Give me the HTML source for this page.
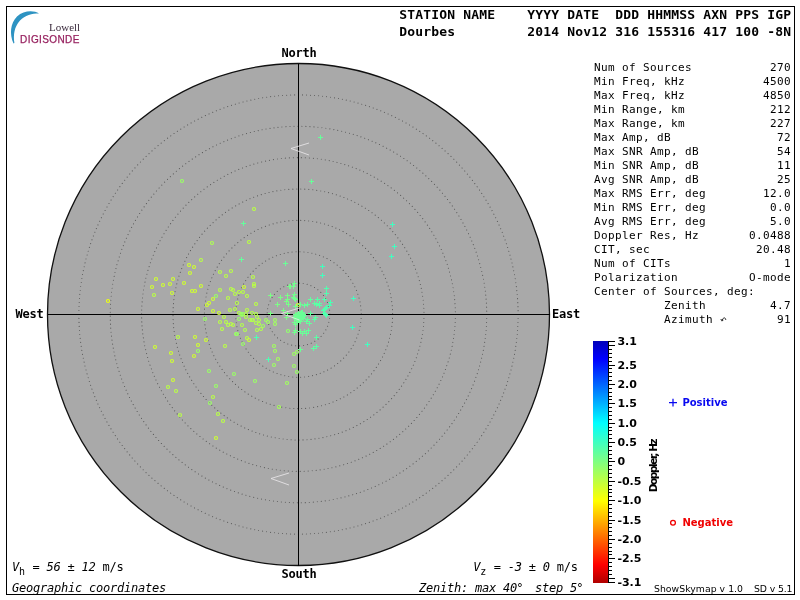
<!DOCTYPE html>
<html lang="en"><head><meta charset="utf-8"><title>Skymap - Dourbes</title>
<style>
html,body{margin:0;padding:0;background:#fff;}
svg{display:block;will-change:transform;}
.mb{font-family:"DejaVu Sans Mono","Liberation Mono",monospace;font-weight:bold;}
.m{font-family:"DejaVu Sans Mono","Liberation Mono",monospace;}
.mi{font-family:"DejaVu Sans Mono","Liberation Mono",monospace;font-style:oblique;}
.sb{font-family:"DejaVu Sans","Liberation Sans",sans-serif;font-weight:bold;}
.s{font-family:"DejaVu Sans","Liberation Sans",sans-serif;}
text{white-space:pre;}
</style></head><body>
<svg width="800" height="600" viewBox="0 0 800 600">
<rect x="6.5" y="6.5" width="788" height="588" fill="none" stroke="#000" stroke-width="1" shape-rendering="crispEdges"/>
<g id="logo">
<path d="M39,13.5 C34,10.3 24,10 17,16.5 C10.3,23 9.3,34 13.5,43.6 L14.4,43 C13.2,35 14.2,27 20,20.5 C25,15.2 32,13.5 39,13.5 Z" fill="#2e93c2"/>
<text x="49" y="30.5" font-family="'Liberation Serif','DejaVu Serif',serif" font-size="11" fill="#3b2b3d">Lowell</text>
<text x="20.1" y="42.6" font-family="'Liberation Sans','DejaVu Sans',sans-serif" font-size="10" letter-spacing="0.4" fill="#97215f" stroke="#97215f" stroke-width="0.25">DIGISONDE</text>
</g>
<text class="mb" x="399.3" y="19" font-size="13" letter-spacing="0.17">STATION NAME    YYYY DATE  DDD HHMMSS AXN PPS IGP</text>
<text class="mb" x="399.3" y="36" font-size="13" letter-spacing="0.17">Dourbes         2014 Nov12 316 155316 417 100 -8N</text>
<circle cx="298.5" cy="314.5" r="251.0" fill="#a9a9a9" stroke="#111" stroke-width="1.3"/>
<circle cx="298.5" cy="314.5" r="31.38" fill="none" stroke="#585858" stroke-width="1.1" stroke-linecap="round" stroke-dasharray="0.01 4"/>
<circle cx="298.5" cy="314.5" r="62.75" fill="none" stroke="#585858" stroke-width="1.1" stroke-linecap="round" stroke-dasharray="0.01 4"/>
<circle cx="298.5" cy="314.5" r="94.12" fill="none" stroke="#585858" stroke-width="1.1" stroke-linecap="round" stroke-dasharray="0.01 4"/>
<circle cx="298.5" cy="314.5" r="125.50" fill="none" stroke="#585858" stroke-width="1.1" stroke-linecap="round" stroke-dasharray="0.01 4"/>
<circle cx="298.5" cy="314.5" r="156.88" fill="none" stroke="#585858" stroke-width="1.1" stroke-linecap="round" stroke-dasharray="0.01 4"/>
<circle cx="298.5" cy="314.5" r="188.25" fill="none" stroke="#585858" stroke-width="1.1" stroke-linecap="round" stroke-dasharray="0.01 4"/>
<circle cx="298.5" cy="314.5" r="219.62" fill="none" stroke="#585858" stroke-width="1.1" stroke-linecap="round" stroke-dasharray="0.01 4"/>
<line x1="47.5" y1="314.5" x2="549.5" y2="314.5" stroke="#000" stroke-width="1" shape-rendering="crispEdges"/>
<line x1="298.5" y1="63.5" x2="298.5" y2="565.5" stroke="#000" stroke-width="1" shape-rendering="crispEdges"/>
<text class="mb" x="281.4" y="57" font-size="12" letter-spacing="-0.22">North</text>
<text class="mb" x="281.4" y="578" font-size="12" letter-spacing="-0.22">South</text>
<text class="mb" x="15.5" y="318" font-size="12" letter-spacing="-0.22">West</text>
<text class="mb" x="552" y="318" font-size="12" letter-spacing="-0.22">East</text>
<g id="pts" fill="none" stroke-width="1">
<circle cx="182" cy="181" r="1.5" stroke="#99ff66" stroke-width="1.15"/>
<circle cx="254" cy="209" r="1.5" stroke="#b9ff46" stroke-width="1.15"/>
<circle cx="108" cy="301" r="1.5" stroke="#ecff13" stroke-width="1.15"/>
<circle cx="156" cy="279" r="1.5" stroke="#cfff30" stroke-width="1.15"/>
<circle cx="152" cy="287" r="1.5" stroke="#cfff30" stroke-width="1.15"/>
<circle cx="154" cy="295" r="1.5" stroke="#b9ff46" stroke-width="1.15"/>
<circle cx="163" cy="285" r="1.5" stroke="#cfff30" stroke-width="1.15"/>
<circle cx="170" cy="284" r="1.5" stroke="#cfff30" stroke-width="1.15"/>
<circle cx="173" cy="279" r="1.5" stroke="#cfff30" stroke-width="1.15"/>
<circle cx="172" cy="293" r="1.5" stroke="#cfff30" stroke-width="1.15"/>
<circle cx="184" cy="283" r="1.5" stroke="#cfff30" stroke-width="1.15"/>
<circle cx="189" cy="265" r="1.5" stroke="#cfff30" stroke-width="1.15"/>
<circle cx="194" cy="267" r="1.5" stroke="#cfff30" stroke-width="1.15"/>
<circle cx="190" cy="273" r="1.5" stroke="#cfff30" stroke-width="1.15"/>
<circle cx="201" cy="260" r="1.5" stroke="#b9ff46" stroke-width="1.15"/>
<circle cx="201" cy="286" r="1.5" stroke="#cfff30" stroke-width="1.15"/>
<circle cx="192" cy="291" r="1.5" stroke="#cfff30" stroke-width="1.15"/>
<circle cx="195" cy="291" r="1.5" stroke="#cfff30" stroke-width="1.15"/>
<circle cx="198" cy="309" r="1.5" stroke="#cfff30" stroke-width="1.15"/>
<circle cx="207" cy="305" r="1.5" stroke="#cfff30" stroke-width="1.15"/>
<circle cx="209" cy="303" r="1.5" stroke="#cfff30" stroke-width="1.15"/>
<circle cx="205" cy="319" r="1.5" stroke="#99ff66" stroke-width="1.15"/>
<circle cx="212" cy="243" r="1.5" stroke="#adff53" stroke-width="1.15"/>
<circle cx="249" cy="242" r="1.5" stroke="#b9ff46" stroke-width="1.15"/>
<circle cx="220" cy="272" r="1.5" stroke="#b9ff46" stroke-width="1.15"/>
<circle cx="231" cy="271" r="1.5" stroke="#b9ff46" stroke-width="1.15"/>
<circle cx="226" cy="276" r="1.5" stroke="#b9ff46" stroke-width="1.15"/>
<circle cx="253" cy="277" r="1.5" stroke="#b9ff46" stroke-width="1.15"/>
<circle cx="254" cy="284" r="1.5" stroke="#b9ff46" stroke-width="1.15"/>
<circle cx="254" cy="286" r="1.5" stroke="#b9ff46" stroke-width="1.15"/>
<circle cx="244" cy="287" r="1.5" stroke="#cfff30" stroke-width="1.15"/>
<circle cx="231" cy="289" r="1.5" stroke="#b9ff46" stroke-width="1.15"/>
<circle cx="233" cy="290" r="1.5" stroke="#b9ff46" stroke-width="1.15"/>
<circle cx="220" cy="290" r="1.5" stroke="#b9ff46" stroke-width="1.15"/>
<circle cx="239" cy="292" r="1.5" stroke="#b9ff46" stroke-width="1.15"/>
<circle cx="243" cy="292" r="1.5" stroke="#b9ff46" stroke-width="1.15"/>
<circle cx="235" cy="294" r="1.5" stroke="#b9ff46" stroke-width="1.15"/>
<circle cx="216" cy="296" r="1.5" stroke="#99ff66" stroke-width="1.15"/>
<circle cx="247" cy="296" r="1.5" stroke="#b9ff46" stroke-width="1.15"/>
<circle cx="228" cy="298" r="1.5" stroke="#b9ff46" stroke-width="1.15"/>
<circle cx="213" cy="299" r="1.5" stroke="#cfff30" stroke-width="1.15"/>
<circle cx="237" cy="303" r="1.5" stroke="#b9ff46" stroke-width="1.15"/>
<circle cx="256" cy="304" r="1.5" stroke="#b9ff46" stroke-width="1.15"/>
<circle cx="230" cy="310" r="1.5" stroke="#b9ff46" stroke-width="1.15"/>
<circle cx="235" cy="309" r="1.5" stroke="#b9ff46" stroke-width="1.15"/>
<circle cx="213" cy="311" r="1.5" stroke="#cfff30" stroke-width="1.15"/>
<circle cx="247" cy="310" r="1.5" stroke="#b9ff46" stroke-width="1.15"/>
<circle cx="219" cy="313" r="1.5" stroke="#cfff30" stroke-width="1.15"/>
<circle cx="239" cy="313" r="1.5" stroke="#b9ff46" stroke-width="1.15"/>
<circle cx="241" cy="314" r="1.5" stroke="#99ff66" stroke-width="1.15"/>
<circle cx="242" cy="315" r="1.5" stroke="#99ff66" stroke-width="1.15"/>
<circle cx="243" cy="314" r="1.5" stroke="#99ff66" stroke-width="1.15"/>
<circle cx="246" cy="314" r="1.5" stroke="#b3ff4d" stroke-width="1.15"/>
<circle cx="252" cy="313" r="1.5" stroke="#b3ff4d" stroke-width="1.15"/>
<circle cx="256" cy="314" r="1.5" stroke="#b3ff4d" stroke-width="1.15"/>
<circle cx="224" cy="317" r="1.5" stroke="#b9ff46" stroke-width="1.15"/>
<circle cx="239" cy="319" r="1.5" stroke="#99ff66" stroke-width="1.15"/>
<circle cx="246" cy="317" r="1.5" stroke="#b3ff4d" stroke-width="1.15"/>
<circle cx="257" cy="317" r="1.5" stroke="#b3ff4d" stroke-width="1.15"/>
<circle cx="250" cy="320" r="1.5" stroke="#b3ff4d" stroke-width="1.15"/>
<circle cx="252" cy="320" r="1.5" stroke="#b3ff4d" stroke-width="1.15"/>
<circle cx="253" cy="320" r="1.5" stroke="#b3ff4d" stroke-width="1.15"/>
<circle cx="259" cy="320" r="1.5" stroke="#b3ff4d" stroke-width="1.15"/>
<circle cx="266" cy="320" r="1.5" stroke="#a1ff5f" stroke-width="1.15"/>
<circle cx="275" cy="320" r="1.5" stroke="#a1ff5f" stroke-width="1.15"/>
<circle cx="220" cy="322" r="1.5" stroke="#b9ff46" stroke-width="1.15"/>
<circle cx="226" cy="322" r="1.5" stroke="#b9ff46" stroke-width="1.15"/>
<circle cx="256" cy="323" r="1.5" stroke="#b3ff4d" stroke-width="1.15"/>
<circle cx="259" cy="324" r="1.5" stroke="#b3ff4d" stroke-width="1.15"/>
<circle cx="268" cy="322" r="1.5" stroke="#a1ff5f" stroke-width="1.15"/>
<circle cx="275" cy="324" r="1.5" stroke="#a1ff5f" stroke-width="1.15"/>
<circle cx="228" cy="325" r="1.5" stroke="#b9ff46" stroke-width="1.15"/>
<circle cx="231" cy="324" r="1.5" stroke="#b9ff46" stroke-width="1.15"/>
<circle cx="233" cy="325" r="1.5" stroke="#b9ff46" stroke-width="1.15"/>
<circle cx="242" cy="325" r="1.5" stroke="#b3ff4d" stroke-width="1.15"/>
<circle cx="263" cy="326" r="1.5" stroke="#a1ff5f" stroke-width="1.15"/>
<circle cx="222" cy="329" r="1.5" stroke="#b9ff46" stroke-width="1.15"/>
<circle cx="245" cy="330" r="1.5" stroke="#b3ff4d" stroke-width="1.15"/>
<circle cx="257" cy="330" r="1.5" stroke="#b3ff4d" stroke-width="1.15"/>
<circle cx="261" cy="329" r="1.5" stroke="#b3ff4d" stroke-width="1.15"/>
<circle cx="237" cy="334" r="1.5" stroke="#99ff66" stroke-width="1.15"/>
<circle cx="236" cy="334" r="1.5" stroke="#99ff66" stroke-width="1.15"/>
<circle cx="247" cy="338" r="1.5" stroke="#b9ff46" stroke-width="1.15"/>
<circle cx="249" cy="340" r="1.5" stroke="#ccff33" stroke-width="1.15"/>
<circle cx="206" cy="340" r="1.5" stroke="#cfff30" stroke-width="1.15"/>
<circle cx="243" cy="344" r="1.5" stroke="#99ff66" stroke-width="1.15"/>
<circle cx="225" cy="346" r="1.5" stroke="#b9ff46" stroke-width="1.15"/>
<circle cx="274" cy="346" r="1.5" stroke="#a1ff5f" stroke-width="1.15"/>
<circle cx="288" cy="331" r="1.5" stroke="#91ff6f" stroke-width="1.15"/>
<circle cx="298" cy="305" r="1.5" stroke="#cfff30" stroke-width="1.15"/>
<circle cx="275" cy="351" r="1.5" stroke="#a1ff5f" stroke-width="1.15"/>
<circle cx="278" cy="359" r="1.5" stroke="#a5ff5a" stroke-width="1.15"/>
<circle cx="274" cy="365" r="1.5" stroke="#9dff63" stroke-width="1.15"/>
<circle cx="294" cy="354" r="1.5" stroke="#9dff63" stroke-width="1.15"/>
<circle cx="297" cy="352" r="1.5" stroke="#9dff63" stroke-width="1.15"/>
<circle cx="294" cy="366" r="1.5" stroke="#9dff63" stroke-width="1.15"/>
<circle cx="297" cy="372" r="1.5" stroke="#99ff67" stroke-width="1.15"/>
<circle cx="287" cy="383" r="1.5" stroke="#a1ff5f" stroke-width="1.15"/>
<circle cx="155" cy="347" r="1.5" stroke="#cfff30" stroke-width="1.15"/>
<circle cx="178" cy="337" r="1.5" stroke="#b9ff46" stroke-width="1.15"/>
<circle cx="171" cy="353" r="1.5" stroke="#cfff30" stroke-width="1.15"/>
<circle cx="172" cy="361" r="1.5" stroke="#cfff30" stroke-width="1.15"/>
<circle cx="195" cy="337" r="1.5" stroke="#cfff30" stroke-width="1.15"/>
<circle cx="198" cy="345" r="1.5" stroke="#cfff30" stroke-width="1.15"/>
<circle cx="198" cy="351" r="1.5" stroke="#99ff66" stroke-width="1.15"/>
<circle cx="194" cy="356" r="1.5" stroke="#cfff30" stroke-width="1.15"/>
<circle cx="209" cy="371" r="1.5" stroke="#99ff66" stroke-width="1.15"/>
<circle cx="234" cy="374" r="1.5" stroke="#99ff66" stroke-width="1.15"/>
<circle cx="255" cy="381" r="1.5" stroke="#99ff66" stroke-width="1.15"/>
<circle cx="173" cy="380" r="1.5" stroke="#cfff30" stroke-width="1.15"/>
<circle cx="168" cy="387" r="1.5" stroke="#b9ff46" stroke-width="1.15"/>
<circle cx="176" cy="391" r="1.5" stroke="#b9ff46" stroke-width="1.15"/>
<circle cx="216" cy="386" r="1.5" stroke="#99ff66" stroke-width="1.15"/>
<circle cx="213" cy="397" r="1.5" stroke="#b9ff46" stroke-width="1.15"/>
<circle cx="210" cy="403" r="1.5" stroke="#99ff66" stroke-width="1.15"/>
<circle cx="218" cy="414" r="1.5" stroke="#b9ff46" stroke-width="1.15"/>
<circle cx="180" cy="415" r="1.5" stroke="#b9ff46" stroke-width="1.15"/>
<circle cx="223" cy="421" r="1.5" stroke="#b9ff46" stroke-width="1.15"/>
<circle cx="216" cy="438" r="1.5" stroke="#ccff33" stroke-width="1.15"/>
<circle cx="279" cy="407" r="1.5" stroke="#a5ff5a" stroke-width="1.15"/>
<path d="M241,223.5h5M243.5,221v5" stroke="#64ff9c" shape-rendering="crispEdges"/>
<path d="M318,137.5h5M320.5,135v5" stroke="#66ff99" shape-rendering="crispEdges"/>
<path d="M309,181.5h5M311.5,179v5" stroke="#66ff99" shape-rendering="crispEdges"/>
<path d="M390,224.5h5M392.5,222v5" stroke="#40ffc0" shape-rendering="crispEdges"/>
<path d="M239,259.5h5M241.5,257v5" stroke="#64ff9c" shape-rendering="crispEdges"/>
<path d="M283,263.5h5M285.5,261v5" stroke="#69ff97" shape-rendering="crispEdges"/>
<path d="M287,286.5h5M289.5,284v5" stroke="#77ff89" shape-rendering="crispEdges"/>
<path d="M268,295.5h5M270.5,293v5" stroke="#7bff85" shape-rendering="crispEdges"/>
<path d="M278,297.5h5M280.5,295v5" stroke="#7bff85" shape-rendering="crispEdges"/>
<path d="M285,295.5h5M287.5,293v5" stroke="#79ff87" shape-rendering="crispEdges"/>
<path d="M275,304.5h5M277.5,302v5" stroke="#7bff85" shape-rendering="crispEdges"/>
<path d="M268,313.5h5M270.5,311v5" stroke="#7bff85" shape-rendering="crispEdges"/>
<path d="M281,310.5h5M283.5,308v5" stroke="#7bff85" shape-rendering="crispEdges"/>
<path d="M285,313.5h5M287.5,311v5" stroke="#79ff87" shape-rendering="crispEdges"/>
<path d="M284,317.5h5M286.5,315v5" stroke="#7aff86" shape-rendering="crispEdges"/>
<path d="M254,337.5h5M256.5,335v5" stroke="#4fffb0" shape-rendering="crispEdges"/>
<path d="M320,275.5h5M322.5,273v5" stroke="#43ffbd" shape-rendering="crispEdges"/>
<path d="M292,283.5h5M294.5,281v5" stroke="#72ff8e" shape-rendering="crispEdges"/>
<path d="M288,286.5h5M290.5,284v5" stroke="#76ff8a" shape-rendering="crispEdges"/>
<path d="M291,286.5h5M293.5,284v5" stroke="#73ff8d" shape-rendering="crispEdges"/>
<path d="M324,288.5h5M326.5,286v5" stroke="#51ffaf" shape-rendering="crispEdges"/>
<path d="M324,293.5h5M326.5,291v5" stroke="#51ffaf" shape-rendering="crispEdges"/>
<path d="M292,294.5h5M294.5,292v5" stroke="#72ff8e" shape-rendering="crispEdges"/>
<path d="M292,298.5h5M294.5,296v5" stroke="#72ff8e" shape-rendering="crispEdges"/>
<path d="M291,297.5h5M293.5,295v5" stroke="#73ff8d" shape-rendering="crispEdges"/>
<path d="M293,299.5h5M295.5,297v5" stroke="#71ff8f" shape-rendering="crispEdges"/>
<path d="M285,299.5h5M287.5,297v5" stroke="#78ff88" shape-rendering="crispEdges"/>
<path d="M284,301.5h5M286.5,299v5" stroke="#7aff86" shape-rendering="crispEdges"/>
<path d="M286,304.5h5M288.5,302v5" stroke="#77ff89" shape-rendering="crispEdges"/>
<path d="M308,299.5h5M310.5,297v5" stroke="#61ff9f" shape-rendering="crispEdges"/>
<path d="M315,299.5h5M317.5,297v5" stroke="#5affa6" shape-rendering="crispEdges"/>
<path d="M322,299.5h5M324.5,297v5" stroke="#53ffad" shape-rendering="crispEdges"/>
<path d="M298,304.5h5M300.5,302v5" stroke="#6cff94" shape-rendering="crispEdges"/>
<path d="M302,305.5h5M304.5,303v5" stroke="#67ff99" shape-rendering="crispEdges"/>
<path d="M305,304.5h5M307.5,302v5" stroke="#64ff9b" shape-rendering="crispEdges"/>
<path d="M312,303.5h5M314.5,301v5" stroke="#5dffa2" shape-rendering="crispEdges"/>
<path d="M314,304.5h5M316.5,302v5" stroke="#5bffa4" shape-rendering="crispEdges"/>
<path d="M317,303.5h5M319.5,301v5" stroke="#58ffa8" shape-rendering="crispEdges"/>
<path d="M317,305.5h5M319.5,303v5" stroke="#58ffa8" shape-rendering="crispEdges"/>
<path d="M293,306.5h5M295.5,304v5" stroke="#71ff8f" shape-rendering="crispEdges"/>
<path d="M308,313.5h5M310.5,311v5" stroke="#61ff9f" shape-rendering="crispEdges"/>
<path d="M300,312.5h5M302.5,310v5" stroke="#6aff96" shape-rendering="crispEdges"/>
<path d="M321,310.5h5M323.5,308v5" stroke="#54ffac" shape-rendering="crispEdges"/>
<path d="M322,309.5h5M324.5,307v5" stroke="#53ffad" shape-rendering="crispEdges"/>
<path d="M323,308.5h5M325.5,306v5" stroke="#52ffae" shape-rendering="crispEdges"/>
<path d="M324,307.5h5M326.5,305v5" stroke="#51ffaf" shape-rendering="crispEdges"/>
<path d="M322,313.5h5M324.5,311v5" stroke="#53ffad" shape-rendering="crispEdges"/>
<path d="M323,314.5h5M325.5,312v5" stroke="#52ffae" shape-rendering="crispEdges"/>
<path d="M324,315.5h5M326.5,313v5" stroke="#51ffaf" shape-rendering="crispEdges"/>
<path d="M328,302.5h5M330.5,300v5" stroke="#4cffb3" shape-rendering="crispEdges"/>
<path d="M327,305.5h5M329.5,303v5" stroke="#4effb2" shape-rendering="crispEdges"/>
<path d="M313,317.5h5M315.5,315v5" stroke="#5cffa4" shape-rendering="crispEdges"/>
<path d="M312,319.5h5M314.5,317v5" stroke="#5dffa2" shape-rendering="crispEdges"/>
<path d="M292,322.5h5M294.5,320v5" stroke="#72ff8e" shape-rendering="crispEdges"/>
<path d="M293,324.5h5M295.5,322v5" stroke="#71ff8f" shape-rendering="crispEdges"/>
<path d="M295,322.5h5M297.5,320v5" stroke="#6fff91" shape-rendering="crispEdges"/>
<path d="M298,321.5h5M300.5,319v5" stroke="#6bff95" shape-rendering="crispEdges"/>
<path d="M304,321.5h5M306.5,319v5" stroke="#66ff9a" shape-rendering="crispEdges"/>
<path d="M307,323.5h5M309.5,321v5" stroke="#63ff9d" shape-rendering="crispEdges"/>
<path d="M305,319.5h5M307.5,317v5" stroke="#65ff9b" shape-rendering="crispEdges"/>
<path d="M293,330.5h5M295.5,328v5" stroke="#71ff8f" shape-rendering="crispEdges"/>
<path d="M292,332.5h5M294.5,330v5" stroke="#72ff8e" shape-rendering="crispEdges"/>
<path d="M298,331.5h5M300.5,329v5" stroke="#6bff95" shape-rendering="crispEdges"/>
<path d="M300,333.5h5M302.5,331v5" stroke="#6aff96" shape-rendering="crispEdges"/>
<path d="M302,331.5h5M304.5,329v5" stroke="#67ff99" shape-rendering="crispEdges"/>
<path d="M306,330.5h5M308.5,328v5" stroke="#64ff9c" shape-rendering="crispEdges"/>
<path d="M304,333.5h5M306.5,331v5" stroke="#66ff9a" shape-rendering="crispEdges"/>
<path d="M314,337.5h5M316.5,335v5" stroke="#5bffa5" shape-rendering="crispEdges"/>
<path d="M314,346.5h5M316.5,344v5" stroke="#5bffa5" shape-rendering="crispEdges"/>
<path d="M311,348.5h5M313.5,346v5" stroke="#5effa1" shape-rendering="crispEdges"/>
<path d="M298,349.5h5M300.5,347v5" stroke="#6bff94" shape-rendering="crispEdges"/>
<path d="M266,359.5h5M268.5,357v5" stroke="#4dffb3" shape-rendering="crispEdges"/>
<path d="M392,246.5h5M394.5,244v5" stroke="#40ffc0" shape-rendering="crispEdges"/>
<path d="M389,256.5h5M391.5,254v5" stroke="#40ffc0" shape-rendering="crispEdges"/>
<path d="M320,266.5h5M322.5,264v5" stroke="#43ffbc" shape-rendering="crispEdges"/>
<path d="M351,298.5h5M353.5,296v5" stroke="#40ffc0" shape-rendering="crispEdges"/>
<path d="M350,327.5h5M352.5,325v5" stroke="#40ffc0" shape-rendering="crispEdges"/>
<path d="M365,344.5h5M367.5,342v5" stroke="#40ffc0" shape-rendering="crispEdges"/>
<path d="M292,317.5h5M294.5,315v5" stroke="#72ff8e" shape-rendering="crispEdges"/>
<path d="M293,314.5h5M295.5,312v5" stroke="#71ff8f" shape-rendering="crispEdges"/>
<path d="M293,316.5h5M295.5,314v5" stroke="#71ff8f" shape-rendering="crispEdges"/>
<path d="M293,318.5h5M295.5,316v5" stroke="#71ff8f" shape-rendering="crispEdges"/>
<path d="M294,315.5h5M296.5,313v5" stroke="#70ff90" shape-rendering="crispEdges"/>
<path d="M294,317.5h5M296.5,315v5" stroke="#70ff90" shape-rendering="crispEdges"/>
<path d="M294,319.5h5M296.5,317v5" stroke="#70ff90" shape-rendering="crispEdges"/>
<path d="M295,314.5h5M297.5,312v5" stroke="#6fff91" shape-rendering="crispEdges"/>
<path d="M295,316.5h5M297.5,314v5" stroke="#6fff91" shape-rendering="crispEdges"/>
<path d="M295,318.5h5M297.5,316v5" stroke="#6fff91" shape-rendering="crispEdges"/>
<path d="M295,320.5h5M297.5,318v5" stroke="#6fff91" shape-rendering="crispEdges"/>
<path d="M296,313.5h5M298.5,311v5" stroke="#6eff92" shape-rendering="crispEdges"/>
<path d="M296,315.5h5M298.5,313v5" stroke="#6eff92" shape-rendering="crispEdges"/>
<path d="M296,317.5h5M298.5,315v5" stroke="#6eff92" shape-rendering="crispEdges"/>
<path d="M296,319.5h5M298.5,317v5" stroke="#6eff92" shape-rendering="crispEdges"/>
<path d="M297,314.5h5M299.5,312v5" stroke="#6dff93" shape-rendering="crispEdges"/>
<path d="M297,316.5h5M299.5,314v5" stroke="#6dff93" shape-rendering="crispEdges"/>
<path d="M297,318.5h5M299.5,316v5" stroke="#6dff93" shape-rendering="crispEdges"/>
<path d="M298,313.5h5M300.5,311v5" stroke="#6cff94" shape-rendering="crispEdges"/>
<path d="M298,315.5h5M300.5,313v5" stroke="#6cff94" shape-rendering="crispEdges"/>
<path d="M298,317.5h5M300.5,315v5" stroke="#6cff94" shape-rendering="crispEdges"/>
<path d="M298,319.5h5M300.5,317v5" stroke="#6cff94" shape-rendering="crispEdges"/>
<path d="M299,312.5h5M301.5,310v5" stroke="#6bff95" shape-rendering="crispEdges"/>
<path d="M299,314.5h5M301.5,312v5" stroke="#6bff95" shape-rendering="crispEdges"/>
<path d="M299,316.5h5M301.5,314v5" stroke="#6bff95" shape-rendering="crispEdges"/>
<path d="M299,318.5h5M301.5,316v5" stroke="#6bff95" shape-rendering="crispEdges"/>
<path d="M300,313.5h5M302.5,311v5" stroke="#6aff96" shape-rendering="crispEdges"/>
<path d="M300,315.5h5M302.5,313v5" stroke="#6aff96" shape-rendering="crispEdges"/>
<path d="M300,317.5h5M302.5,315v5" stroke="#6aff96" shape-rendering="crispEdges"/>
<path d="M301,314.5h5M303.5,312v5" stroke="#69ff97" shape-rendering="crispEdges"/>
<path d="M301,316.5h5M303.5,314v5" stroke="#69ff97" shape-rendering="crispEdges"/>
<path d="M301,318.5h5M303.5,316v5" stroke="#69ff97" shape-rendering="crispEdges"/>
<path d="M302,315.5h5M304.5,313v5" stroke="#68ff98" shape-rendering="crispEdges"/>
</g>
<path d="M309,143.0L291,148.5L309,155.0" fill="none" stroke="#e8e6e8" stroke-width="0.85"/>
<path d="M299.5,308.0L281.5,313.5L299.5,320.0" fill="none" stroke="#e8e6e8" stroke-width="0.85"/>
<path d="M289,473.0L271,478.5L289,485.0" fill="none" stroke="#e8e6e8" stroke-width="0.85"/>
<text class="m" x="594" y="71" font-size="11" letter-spacing="0.38">Num of Sources</text>
<text class="m" x="770" y="71" font-size="11" letter-spacing="0.38">270</text>
<text class="m" x="594" y="85" font-size="11" letter-spacing="0.38">Min Freq, kHz</text>
<text class="m" x="763" y="85" font-size="11" letter-spacing="0.38">4500</text>
<text class="m" x="594" y="99" font-size="11" letter-spacing="0.38">Max Freq, kHz</text>
<text class="m" x="763" y="99" font-size="11" letter-spacing="0.38">4850</text>
<text class="m" x="594" y="113" font-size="11" letter-spacing="0.38">Min Range, km</text>
<text class="m" x="770" y="113" font-size="11" letter-spacing="0.38">212</text>
<text class="m" x="594" y="127" font-size="11" letter-spacing="0.38">Max Range, km</text>
<text class="m" x="770" y="127" font-size="11" letter-spacing="0.38">227</text>
<text class="m" x="594" y="141" font-size="11" letter-spacing="0.38">Max Amp, dB</text>
<text class="m" x="777" y="141" font-size="11" letter-spacing="0.38">72</text>
<text class="m" x="594" y="155" font-size="11" letter-spacing="0.38">Max SNR Amp, dB</text>
<text class="m" x="777" y="155" font-size="11" letter-spacing="0.38">54</text>
<text class="m" x="594" y="169" font-size="11" letter-spacing="0.38">Min SNR Amp, dB</text>
<text class="m" x="777" y="169" font-size="11" letter-spacing="0.38">11</text>
<text class="m" x="594" y="183" font-size="11" letter-spacing="0.38">Avg SNR Amp, dB</text>
<text class="m" x="777" y="183" font-size="11" letter-spacing="0.38">25</text>
<text class="m" x="594" y="197" font-size="11" letter-spacing="0.38">Max RMS Err, deg</text>
<text class="m" x="763" y="197" font-size="11" letter-spacing="0.38">12.0</text>
<text class="m" x="594" y="211" font-size="11" letter-spacing="0.38">Min RMS Err, deg</text>
<text class="m" x="770" y="211" font-size="11" letter-spacing="0.38">0.0</text>
<text class="m" x="594" y="225" font-size="11" letter-spacing="0.38">Avg RMS Err, deg</text>
<text class="m" x="770" y="225" font-size="11" letter-spacing="0.38">5.0</text>
<text class="m" x="594" y="239" font-size="11" letter-spacing="0.38">Doppler Res, Hz</text>
<text class="m" x="749" y="239" font-size="11" letter-spacing="0.38">0.0488</text>
<text class="m" x="594" y="253" font-size="11" letter-spacing="0.38">CIT, sec</text>
<text class="m" x="756" y="253" font-size="11" letter-spacing="0.38">20.48</text>
<text class="m" x="594" y="267" font-size="11" letter-spacing="0.38">Num of CITs</text>
<text class="m" x="784" y="267" font-size="11" letter-spacing="0.38">1</text>
<text class="m" x="594" y="281" font-size="11" letter-spacing="0.38">Polarization</text>
<text class="m" x="749" y="281" font-size="11" letter-spacing="0.38">O-mode</text>
<text class="m" x="594" y="295" font-size="11" letter-spacing="0.38">Center of Sources, deg:</text>
<text class="m" x="594" y="309" font-size="11" letter-spacing="0.38">          Zenith</text>
<text class="m" x="770" y="309" font-size="11" letter-spacing="0.38">4.7</text>
<text class="m" x="594" y="323" font-size="11" letter-spacing="0.38">          Azimuth</text>
<text class="m" x="777" y="323" font-size="11" letter-spacing="0.38">91</text>
<path d="M725.8,319.9 C725.6,317.3 723.2,317.1 722.4,320" fill="none" stroke="#222" stroke-width="1"/><path d="M720.2,319.1 L723.7,320.1 L721.9,321.5 Z" fill="#222"/>
<defs><linearGradient id="cb" x1="0" y1="0" x2="0" y2="1">
<stop offset="0.0" stop-color="#0000b9"/>
<stop offset="0.075" stop-color="#0000ff"/>
<stop offset="0.339" stop-color="#00ffff"/>
<stop offset="0.5" stop-color="#80ff80"/>
<stop offset="0.661" stop-color="#ffff00"/>
<stop offset="0.925" stop-color="#ff0000"/>
<stop offset="1.0" stop-color="#af0000"/>
</linearGradient></defs>
<rect x="593" y="341" width="15" height="242" fill="url(#cb)"/>
<line x1="608.5" y1="341" x2="608.5" y2="583" stroke="#000" stroke-width="1" shape-rendering="crispEdges"/>
<path d="M609,341.5h6M609,345.5h6M609,349.5h3M609,353.5h3M609,357.5h3M609,361.5h3M609,365.5h6M609,368.5h3M609,372.5h3M609,376.5h3M609,380.5h3M609,384.5h6M609,388.5h3M609,392.5h3M609,396.5h3M609,399.5h3M609,403.5h6M609,407.5h3M609,411.5h3M609,415.5h3M609,419.5h3M609,423.5h6M609,427.5h3M609,430.5h3M609,434.5h3M609,438.5h3M609,442.5h6M609,446.5h3M609,450.5h3M609,454.5h3M609,458.5h3M609,461.5h6M609,465.5h3M609,469.5h3M609,473.5h3M609,477.5h3M609,481.5h6M609,485.5h3M609,489.5h3M609,492.5h3M609,496.5h3M609,500.5h6M609,504.5h3M609,508.5h3M609,512.5h3M609,516.5h3M609,520.5h6M609,523.5h3M609,527.5h3M609,531.5h3M609,535.5h3M609,539.5h6M609,543.5h3M609,547.5h3M609,551.5h3M609,554.5h3M609,558.5h6M609,562.5h3M609,566.5h3M609,570.5h3M609,574.5h3M609,578.5h6M609,582.5h6" stroke="#000" stroke-width="1" shape-rendering="crispEdges" fill="none"/>
<text class="sb" x="617.4" y="345" font-size="11">3.1</text>
<text class="sb" x="617.4" y="369" font-size="11">2.5</text>
<text class="sb" x="617.4" y="388" font-size="11">2.0</text>
<text class="sb" x="617.4" y="407" font-size="11">1.5</text>
<text class="sb" x="617.4" y="427" font-size="11">1.0</text>
<text class="sb" x="617.4" y="446" font-size="11">0.5</text>
<text class="sb" x="617.4" y="465" font-size="11">0</text>
<text class="sb" x="617.4" y="485" font-size="11">-0.5</text>
<text class="sb" x="617.4" y="504" font-size="11">-1.0</text>
<text class="sb" x="617.4" y="524" font-size="11">-1.5</text>
<text class="sb" x="617.4" y="543" font-size="11">-2.0</text>
<text class="sb" x="617.4" y="562" font-size="11">-2.5</text>
<text class="sb" x="617.4" y="586" font-size="11">-3.1</text>
<text class="sb" transform="translate(657,492.3) rotate(-90)" font-size="10.5" textLength="54" lengthAdjust="spacing">Doppler, Hz</text>
<path d="M669,402.5h8M673,398.8v7.6" stroke="#0808f0" stroke-width="1.25" fill="none"/>
<text class="sb" x="682.4" y="406" font-size="10" fill="#0808f0">Positive</text>
<circle cx="673" cy="522.8" r="2.4" stroke="#f00000" fill="none" stroke-width="1.3"/>
<text class="sb" x="682.4" y="526" font-size="10" fill="#f00000">Negative</text>
<text class="s" x="654" y="592.4" font-size="9.3" textLength="89" lengthAdjust="spacing">ShowSkymap v 1.0</text>
<text class="s" x="754" y="592.4" font-size="9.3" textLength="38.5" lengthAdjust="spacing">SD v 5.1</text>
<text x="12" y="571" font-size="12" letter-spacing="-0.22"><tspan class="mi">V</tspan><tspan class="m" dy="4.4" font-size="10">h</tspan><tspan class="mi" dy="-4.4" dx="0.6"> = 56 ± 12</tspan><tspan class="m"> m/s</tspan></text>
<text class="mi" x="12" y="592" font-size="12" letter-spacing="-0.22">Geographic coordinates</text>
<text x="473.3" y="571" font-size="12" letter-spacing="-0.22"><tspan class="mi">V</tspan><tspan class="m" dy="4.4" font-size="10">z</tspan><tspan class="mi" dy="-4.4" dx="0.6"> = -3 ± 0</tspan><tspan class="m"> m/s</tspan></text>
<text class="mi" x="419" y="592" font-size="12" letter-spacing="-0.22">Zenith: max 40<tspan dx="-0.8">°</tspan></text>
<text class="mi" x="535" y="592" font-size="12" letter-spacing="-0.22">step 5<tspan dx="-0.8">°</tspan></text>
</svg></body></html>
